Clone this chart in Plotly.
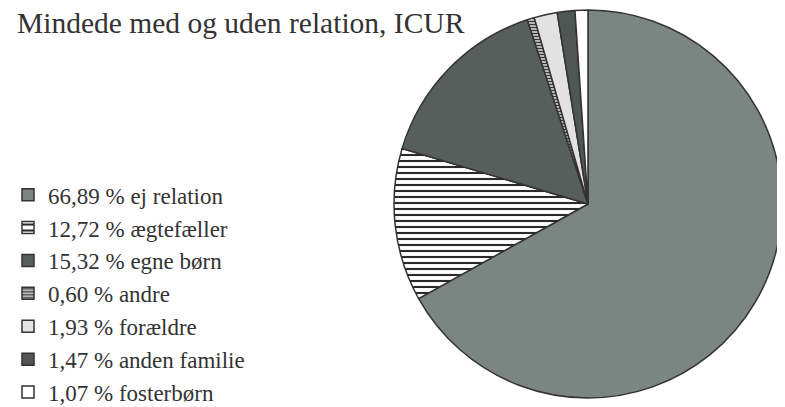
import plotly.graph_objects as go

# Data
categories = ["ej relation", "ægtefæller", "egne børn", "andre", "forældre", "anden familie", "fosterbørn"]
percent_labels = ["66,89", "12,72", "15,32", "0,60", "1,93", "1,47", "1,07"]
values = [66.89, 12.72, 15.32, 0.60, 1.93, 1.47, 1.07]

legend_names = [f"{p} % {c}" for p, c in zip(percent_labels, categories)]

colors = ["#7b8582", "#ffffff", "#575f5c", "#d0d0d0", "#e2e2e2", "#4f5654", "#ffffff"]
pattern_shapes = ["", "-", "", "-", "", "", ""]
pattern_fg = ["#7b8582", "#2a2a2a", "#575f5c", "#3a3a3a", "#e2e2e2", "#4f5654", "#ffffff"]
pattern_sizes = [8, 6, 8, 3, 8, 8, 8]
pattern_solidity = [0.3, 0.35, 0.3, 0.45, 0.3, 0.3, 0.3]

fig = go.Figure(
    go.Pie(
        labels=legend_names,
        values=values,
        sort=False,
        direction="clockwise",
        rotation=0,
        textinfo="none",
        hoverinfo="label",
        marker=dict(
            colors=colors,
            line=dict(color="#333333", width=1.5),
            pattern=dict(
                shape=pattern_shapes,
                fgcolor=pattern_fg,
                bgcolor=colors,
                size=pattern_sizes,
                solidity=pattern_solidity,
                fillmode="replace",
            ),
        ),
        domain=dict(x=[0.4968, 0.9961], y=[0.0226, 0.995]),
    )
)

fig.update_layout(
    width=777,
    height=399,
    margin=dict(l=0, r=0, t=0, b=0, autoexpand=False),
    paper_bgcolor="#ffffff",
    plot_bgcolor="#ffffff",
    font=dict(family="Liberation Serif, serif", color="#333333"),
    title=dict(
        text="Mindede med og uden relation, ICUR",
        x=0.0116,
        xanchor="left",
        y=0.988,
        yanchor="top",
        font=dict(size=29.5, color="#333333", family="Liberation Serif, serif"),
    ),
    showlegend=True,
    legend=dict(
        xref="container",
        yref="container",
        x=0.0,
        xanchor="left",
        y=0.586,
        yanchor="top",
        maxheight=300,
        font=dict(size=23, color="#333333", family="Liberation Serif, serif"),
        bgcolor="rgba(0,0,0,0)",
        traceorder="normal",
        itemclick=False,
    ),
)

fig.write_html("out.html")
